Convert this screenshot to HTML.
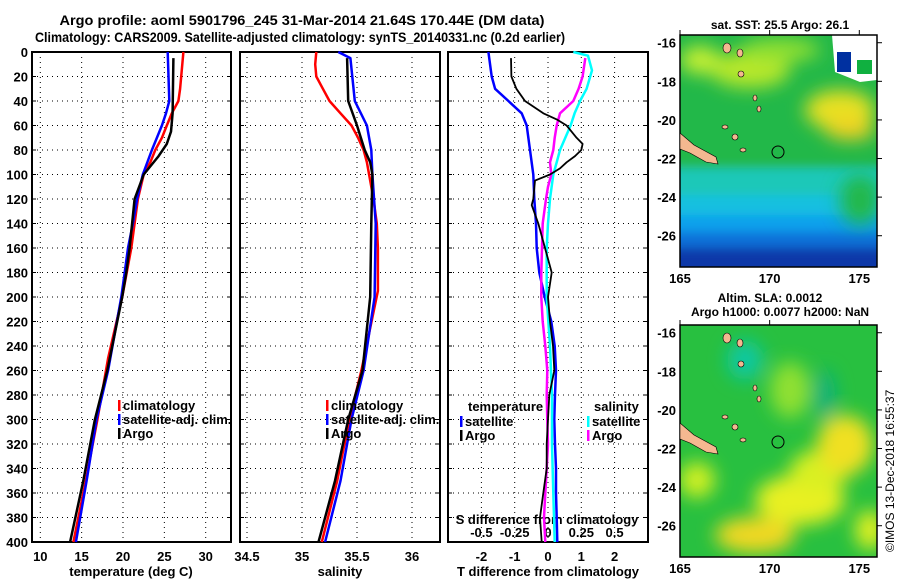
<!DOCTYPE html>
<html><head><meta charset="utf-8"><style>
html,body{margin:0;padding:0;background:#fff}
svg{display:block;font-family:"Liberation Sans",sans-serif;font-weight:bold}
</style></head><body>
<svg id="c" width="900" height="580" viewBox="0 0 900 580">
<text x="302" y="25" text-anchor="middle" font-size="14" textLength="485" lengthAdjust="spacingAndGlyphs">Argo profile: aoml 5901796_245 31-Mar-2014 21.64S 170.44E (DM data)</text>
<text x="300" y="42" text-anchor="middle" font-size="14" textLength="530" lengthAdjust="spacingAndGlyphs">Climatology: CARS2009. Satellite-adjusted climatology: synTS_20140331.nc (0.2d earlier)</text>
<defs>
<filter id="bl" x="-50%" y="-50%" width="200%" height="200%"><feGaussianBlur stdDeviation="9"/></filter>
<filter id="bl2" x="-20%" y="-20%" width="140%" height="140%"><feGaussianBlur stdDeviation="5"/></filter>
<clipPath id="m1"><rect x="680" y="35" width="197" height="232"/></clipPath>
<clipPath id="m2"><rect x="680" y="325" width="197" height="232"/></clipPath>
</defs>
<g id="maps"></g>
<g id="plots"></g>
</svg>
<script>
// ---- data ----
const depthClim=[0,30,40,50,60,70,80,90,100,120,140,160,200,250,300,350,400];
const tClim=[27.3,26.9,26.7,25.9,25.3,24.7,23.9,23.3,22.5,21.8,21.4,21.0,19.9,18.2,16.9,15.5,14.0];
const depthSat=[0,40,50,60,80,100,120,140,160,180,200,260,300,350,400];
const tSat=[25.4,25.6,25.2,24.7,23.5,22.4,21.7,21.2,20.6,20.2,19.8,18.2,16.8,15.6,14.3];
const depthArgo=[5,50,65,75,85,100,120,160,180,200,260,300,350,400];
const tArgo=[26.1,26.0,25.8,25.3,24.3,22.5,21.4,20.8,20.4,19.9,18.1,16.6,15.2,13.6];
const sClimDepth=[0,10,20,30,40,50,60,70,80,90,100,120,140,160,195,260,300,350,400];
const sClim=[35.13,35.12,35.13,35.19,35.25,35.35,35.45,35.51,35.56,35.59,35.61,35.65,35.68,35.69,35.69,35.54,35.43,35.32,35.18];
const sSatDepth=[0,5,40,60,80,100,140,200,260,300,350,400];
const sSat=[35.33,35.44,35.48,35.59,35.63,35.64,35.67,35.66,35.56,35.45,35.35,35.21];
const sArgoDepth=[5,40,60,80,90,100,140,200,260,300,350,400];
const sArgo=[35.41,35.42,35.50,35.57,35.62,35.64,35.63,35.62,35.55,35.42,35.30,35.15];
const dTSatDepth=[0,20,30,40,50,60,80,100,120,140,160,180,200,220,240,260,280,300,320,340,360,380,400];
const dTSat=[-1.79,-1.69,-1.59,-1.19,-0.79,-0.64,-0.54,-0.44,-0.41,-0.36,-0.34,-0.26,-0.1,0.1,0.2,0.24,0.21,0.19,0.21,0.24,0.24,0.26,0.28];
const dTArgoDepth=[5,20,30,40,50,55,60,70,75,80,85,90,95,100,105,120,125,140,160,180,200,220,240,260,280,300,320,340,360,380,400];
const dTArgo=[-1.11,-1.1,-0.95,-0.69,-0.14,0.26,0.56,0.86,1.04,1.0,0.81,0.56,0.36,0.06,-0.39,-0.44,-0.49,-0.29,-0.09,0.11,0.0,0.06,0.15,0.19,0.04,0.0,-0.04,-0.04,-0.14,-0.24,-0.19];
const dSSatDepth=[0,3,15,30,40,50,60,70,80,90,100,120,140,160,200,240,280,320,360,400];
const dSSat=[0.19,0.30,0.33,0.29,0.24,0.20,0.17,0.13,0.09,0.065,0.04,0.015,0.0,-0.01,-0.01,0.015,0.03,0.03,0.04,0.05];
const dSArgoDepth=[5,20,30,40,50,60,70,80,90,100,110,120,140,160,180,200,220,240,260,280,300,320,340,360,380,400];
const dSArgo=[0.28,0.26,0.23,0.19,0.09,0.065,0.05,0.04,0.015,0.025,0.0,-0.015,-0.04,-0.045,-0.05,-0.05,-0.04,-0.02,-0.005,-0.01,-0.005,0.0,-0.01,-0.02,-0.03,-0.02];
const depthTicks=[0,20,40,60,80,100,120,140,160,180,200,220,240,260,280,300,320,340,360,380,400];
const tTicks=[10,15,20,25,30];
const sTicks=[34.5,35,35.5,36];
const dTTicks=[-2,-1,0,1,2];
const dSTicks=[-0.5,-0.25,0,0.25,0.5];
const latTicks=[-16,-18,-20,-22,-24,-26];
const lonTicks=[165,170,175];

const NS='http://www.w3.org/2000/svg';
const plots=document.getElementById('plots');
function mk(tag,attrs,parent){const e=document.createElementNS(NS,tag);for(const k in attrs)e.setAttribute(k,attrs[k]);(parent||plots).appendChild(e);return e;}
const Y=d=>52+d*1.225;
const xT=t=>40.3+(t-10)*8.27;
const xS=s=>302+(s-35)*110;
const xDT=d=>548+d*33.3;
const xDS=d=>548+d*133.2;

const panels=[[32,231,'temp-panel'],[240,440,'salinity-panel'],[448,648,'difference-panel']];
panels.forEach(p=>{
  const r=mk('rect',{x:p[0],y:52,width:p[1]-p[0],height:Y(400)-52,fill:'none',stroke:'#000','stroke-width':2});
  
  
  depthTicks.forEach(d=>{
    const g=mk('line',{x1:p[0],x2:p[1],y1:Y(d),y2:Y(d),stroke:'#000','stroke-width':1,'stroke-dasharray':'1 4'});
    
    
    mk('line',{x1:p[0],x2:p[0]+4,y1:Y(d),y2:Y(d),stroke:'#000'});
    mk('line',{x1:p[1]-4,x2:p[1],y1:Y(d),y2:Y(d),stroke:'#000'});
  });
});
depthTicks.forEach(d=>{
  const t=mk('text',{x:28,y:Y(d)+5,'text-anchor':'end','font-size':13});
  t.textContent=d;
  
  
});
function vgrid(ticks,fx,x0,x1,labels,ly,fs){
  ticks.forEach(v=>{
    const x=fx(v);
    if(x>x0+2&&x<x1-2){
      const g=mk('line',{x1:x,x2:x,y1:52,y2:Y(400),stroke:'#000','stroke-dasharray':'1 4'});
      
      
    }
    if(labels){const t=mk('text',{x:x,y:ly,'text-anchor':'middle','font-size':fs||13});t.textContent=v;
      
      }
  });
}
vgrid(tTicks,xT,32,231,true,561);
vgrid(sTicks,xS,240,440,true,561);
vgrid(dTTicks,xDT,448,648,true,561);
dSTicks.forEach(v=>{const t=mk('text',{x:xDS(v),y:537,'text-anchor':'middle','font-size':13});t.textContent=v;
  
  });
[['temperature (deg C)',131,'temp-axis-title'],['salinity',340,'salinity-axis-title'],['T difference from climatology',548,'t-diff-axis-title']].forEach(a=>{
  const t=mk('text',{x:a[1],y:576,'text-anchor':'middle','font-size':13});t.textContent=a[0];
  
  
});
const st=mk('text',{x:547,y:524,'text-anchor':'middle','font-size':13});st.textContent='S difference from climatology';



function line(depths,vals,fx,color,name,w,x0,x1){
  const pts=depths.map((d,i)=>Math.max(x0,Math.min(x1,fx(vals[i]))).toFixed(1)+','+Y(d).toFixed(1)).join(' ');
  const e=mk('polyline',{points:pts,fill:'none',stroke:color,'stroke-width':w||2.5,'stroke-linejoin':'round'});
  
  
}
line(depthClim,tClim,xT,'#ff0000','temp-climatology-line',2.5,32,231);
line(depthSat,tSat,xT,'#0000ff','temp-satellite-line',2.5,32,231);
line(depthArgo,tArgo,xT,'#000','temp-argo-line',2.5,32,231);
line(sClimDepth,sClim,xS,'#ff0000','salinity-climatology-line',2.5,240,440);
line(sSatDepth,sSat,xS,'#0000ff','salinity-satellite-line',2.5,240,440);
line(sArgoDepth,sArgo,xS,'#000','salinity-argo-line',2.5,240,440);
line(dTSatDepth,dTSat,xDT,'#0000ff','t-diff-satellite-line',2.5,448,648);
line(dSSatDepth,dSSat,xDS,'#00ffff','s-diff-satellite-line',2.5,448,648);
line(dSArgoDepth,dSArgo,xDS,'#ff00ff','s-diff-argo-line',2.5,448,648);
line(dTArgoDepth,dTArgo,xDT,'#000','t-diff-argo-line',1.8,448,648);

function legend(x,y,color,label,name){
  const m=mk('rect',{x:x,y:y-9,width:2.5,height:11,fill:color});
  
  
  const t=mk('text',{x:x+5,y:y+1,'font-size':13});t.textContent=label;
  
  
}
legend(118,409,'#ff0000','climatology','legend-temp-climatology');
legend(118,423,'#0000ff','satellite-adj. clim.','legend-temp-satellite');
legend(118,437,'#000','Argo','legend-temp-argo');
legend(326,409,'#ff0000','climatology','legend-sal-climatology');
legend(326,423,'#0000ff','satellite-adj. clim.','legend-sal-satellite');
legend(326,437,'#000','Argo','legend-sal-argo');
let lt=mk('text',{x:468,y:411,'font-size':13});lt.textContent='temperature';


lt=mk('text',{x:594,y:411,'font-size':13});lt.textContent='salinity';


legend(460,425,'#0000ff','satellite','legend-t-satellite');
legend(460,439,'#000','Argo','legend-t-argo');
legend(587,425,'#00ffff','satellite','legend-s-satellite');
legend(587,439,'#ff00ff','Argo','legend-s-argo');

// ---- maps ----
const maps=document.getElementById('maps');
function mm(tag,attrs,parent){const e=document.createElementNS(NS,tag);for(const k in attrs)e.setAttribute(k,attrs[k]);parent.appendChild(e);return e;}
const lonX=l=>680+(l-165)*17.93;
function mapAxes(top,h,name){
  const latY=la=>top+(-15.6-la)*19.3;
  const f=mm('rect',{x:680,y:top,width:197,height:h,fill:'none',stroke:'#000','stroke-width':1.5},maps);
  
  
  latTicks.forEach(la=>{
    const t=mm('text',{x:676,y:latY(la)+5,'text-anchor':'end','font-size':13},maps);t.textContent=la;
    
    
    mm('line',{x1:877,x2:882,y1:latY(la),y2:latY(la),stroke:'#000'},maps);
  });
  lonTicks.forEach(lo=>{
    const t=mm('text',{x:lonX(lo),y:top+h+16,'text-anchor':'middle','font-size':13},maps);t.textContent=lo;
    
    
    mm('line',{x1:lonX(lo),x2:lonX(lo),y1:top-5,y2:top,stroke:'#000'},maps);
  });
  const isl=mm('g',{fill:'#f4b890',stroke:'#000','stroke-width':0.6},maps);
  
  
  mm('path',{d:`M680 ${top+98} L694 ${top+110} L716 ${top+122} L718 ${top+129} L706 ${top+127} L690 ${top+118} L680 ${top+114}Z`},isl);
  [[727,top+13,4,5],[740,top+18,3,4],[741,top+39,3,3],[755,top+63,2,3],[759,top+74,2,3],[735,top+102,3,3],[743,top+115,3,2],[725,top+92,3,2]].forEach(c=>mm('ellipse',{cx:c[0],cy:c[1],rx:c[2],ry:c[3]},isl));
  const ci=mm('circle',{cx:778,cy:top+117,r:6,fill:'none',stroke:'#000','stroke-width':1},maps);
  
  
}
// SST map
const g1=mm('g',{'clip-path':'url(#m1)'},maps);


const bands=mm('g',{filter:'url(#bl2)'},g1);
[[20,172,'#22b84a'],[168,198,'#1cc8b8'],[195,218,'#18c0e0'],[215,235,'#10a0ec'],[232,250,'#1070d8'],[248,290,'#0838a8']].forEach(b=>mm('rect',{x:660,y:b[0],width:240,height:b[1]-b[0],fill:b[2]},bands));
const gb=mm('g',{filter:'url(#bl)'},g1);
[[750,70,40,18,'#b8e82a'],[700,60,20,14,'#c8f030'],[840,110,35,20,'#e8e020'],[780,50,40,12,'#90e030'],[850,130,25,10,'#f0d020'],[860,200,20,25,'#22b84a']].forEach(e=>mm('ellipse',{cx:e[0],cy:e[1],rx:e[2],ry:e[3],fill:e[4]},gb));
mm('path',{d:'M832 35 L877 35 L877 80 L860 82 L850 78 L835 72 Z',fill:'#fff'},g1);
mm('rect',{x:837,y:52,width:14,height:20,fill:'#0030a0'},g1);
mm('rect',{x:857,y:60,width:15,height:14,fill:'#10b040'},g1);
mapAxes(35,232,'sst-map');
// SLA map
const g2=mm('g',{'clip-path':'url(#m2)'},maps);


mm('rect',{x:680,y:325,width:197,height:232,fill:'#28c040'},g2);
const gb2=mm('g',{filter:'url(#bl)'},g2);
[[800,500,45,25,'#e8f020'],[755,535,40,18,'#f0d820'],[820,470,30,20,'#d8f020'],[845,445,28,30,'#f0e020'],[697,480,18,18,'#d0f020'],[790,390,20,28,'#90e030'],[745,360,18,20,'#10c8a0'],[825,395,10,25,'#10b080'],[870,530,15,20,'#e0f020']].forEach(e=>mm('ellipse',{cx:e[0],cy:e[1],rx:e[2],ry:e[3],fill:e[4]},gb2));
mapAxes(325,232,'sla-map');
[['sat. SST: 25.5 Argo: 26.1',780,29,'sst-map-title'],['Altim. SLA: 0.0012',770,302,'sla-map-title'],['Argo h1000: 0.0077 h2000: NaN',780,316,'sla-map-subtitle']].forEach(a=>{
  const t=mm('text',{x:a[1],y:a[2],'text-anchor':'middle','font-size':12},maps);t.textContent=a[0];
  
  
});
const cp=mm('text',{x:0,y:0,'font-size':12,'font-weight':'normal',transform:'translate(894,552) rotate(-90)'},maps);
cp.textContent='©IMOS 13-Dec-2018 16:55:37';


</script>
</body></html>
